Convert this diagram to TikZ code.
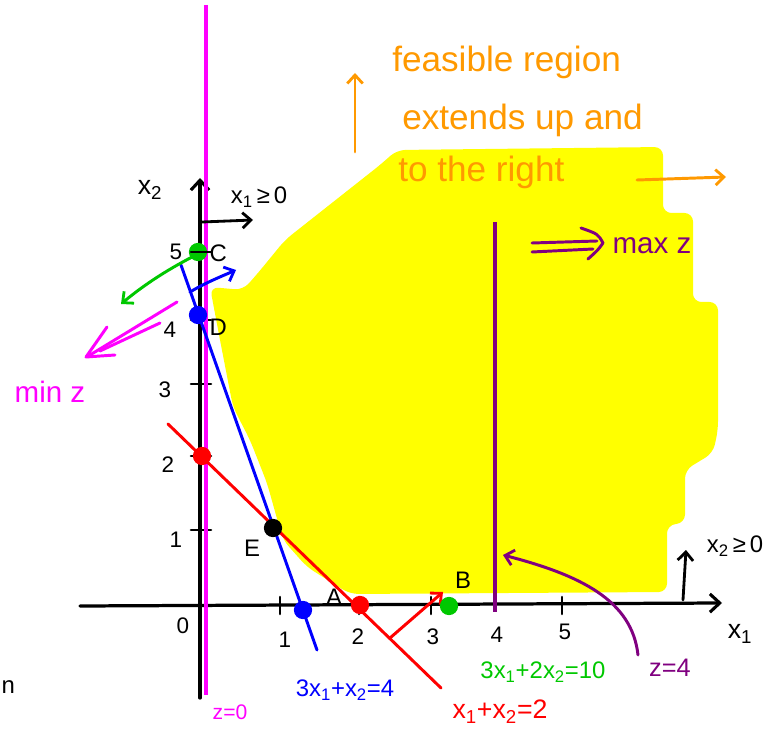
\documentclass[tikz,border=0pt]{standalone}
\usepackage{fontspec}
\setmainfont{Liberation Sans}
\usetikzlibrary{arrows.meta}
\definecolor{hlyellow}{RGB}{255,255,0}
\definecolor{myorange}{RGB}{255,153,0}
\definecolor{mymagenta}{RGB}{255,0,255}
\definecolor{mypurple}{RGB}{128,0,128}
\definecolor{mygreen}{RGB}{0,200,0}
\definecolor{myblue}{RGB}{0,0,255}
\definecolor{myred}{RGB}{255,0,0}
\newcommand{\sbs}[1]{\textsubscript{#1}}
\begin{document}
\begin{tikzpicture}[x=0.025cm,y=-0.025cm,
  pen/.style={line width=2.1pt, line cap=round, line join=round},
  axispen/.style={line width=2.3pt, line cap=round, line join=round, black},
  barb/.style={-{Straight Barb[length=6pt,width=11pt,line width=2pt]}},
  dotn/.style={circle, fill=#1, inner sep=0pt, minimum size=13pt},
  ptlbl/.style={font=\fontsize{17}{20}\selectfont, inner sep=1pt},
  numlbl/.style={font=\fontsize{16}{19}\selectfont, inner sep=1pt},
  eqlbl/.style={font=\fontsize{17}{20}\selectfont, inner sep=1pt},
  biglbl/.style={font=\fontsize{25}{34}\selectfont, text=myorange, align=left, inner sep=0pt},
  zlbl/.style={font=\fontsize{21}{24}\selectfont, inner sep=1pt}
]
\useasboundingbox (0,0) rectangle (784,741);

% feasible region
\fill[hlyellow, rounded corners=6pt]
  (397,150) -- (663,147) -- (663,213) -- (693,213) -- (693,302) -- (718,302)
  -- (718,430) -- (713,453) -- (685,470) -- (685,523) -- (667,525) -- (667,592)
  -- (350,594) -- (307,567) -- (283,540) -- (267,483) -- (250,440) -- (233,407)
  -- (220,340) -- (210,287) -- (243,290) -- (258,273) -- (285,240) -- (380,165) -- cycle;

% coordinates
\coordinate (yb) at (200,698);
\coordinate (yt) at (200,178);
\coordinate (xl) at (80,606);
\coordinate (xr) at (722,603);
\coordinate (mzt) at (206,5);
\coordinate (mzb) at (206,695);
\coordinate (bt) at (181,265);
\coordinate (bb) at (317,650);
\coordinate (rt) at (168,424);
\coordinate (rb) at (441,688);
\coordinate (pt) at (495,222);
\coordinate (pb) at (495,612);

% axes
\draw[axispen, -{Straight Barb[length=7pt,width=13pt,line width=2.2pt]}] (yb) -- (yt);
\draw[axispen, -{Straight Barb[length=7pt,width=13pt,line width=2.2pt]}] (xl) -- (xr);

% ticks
\foreach \tx/\nm in {280/t1,359/t2,431/t3,562/t5} {
  \coordinate (\nm a) at (\tx,597); \coordinate (\nm b) at (\tx,614);
  \draw[axispen, line width=1.8pt] (\nm a) -- (\nm b);
}
\foreach \ty/\nm in {252/s5,320/s4,384/s3,456/s2,530/s1} {
  \coordinate (\nm a) at (191,\ty); \coordinate (\nm b) at (211,\ty);
  \draw[axispen, line width=1.8pt] (\nm a) -- (\nm b);
}

% tick labels
\node[numlbl] (n0) at (183,626) {0};
\node[numlbl] (n1) at (285,640) {1};
\node[numlbl] (n2) at (358,637) {2};
\node[numlbl] (n3) at (433,637) {3};
\node[numlbl] (n4) at (497,635) {4};
\node[numlbl] (n5) at (565,632) {5};
\node[numlbl] (m5) at (176,252) {5};
\node[numlbl] (m4) at (170,330) {4};
\node[numlbl] (m3) at (165,390) {3};
\node[numlbl] (m2) at (168,465) {2};
\node[numlbl] (m1) at (176,540) {1};

% axis labels
\node[ptlbl, font=\fontsize{19}{22}\selectfont] (x2lab) at (150,190) {x\sbs{2}};
\node[ptlbl, font=\fontsize{19}{22}\selectfont] (x1lab) at (740,634) {x\sbs{1}};

% z = 0 line
\draw[mymagenta, line width=2.2pt] (mzt) -- (mzb);
\node[eqlbl, text=mymagenta, font=\fontsize{15}{18}\selectfont] (z0) at (230,712) {z=0};

% blue line
\draw[myblue, pen] (bt) -- (bb);
\coordinate (ba1) at (190,292);
\coordinate (ba2) at (236,270);
\draw[myblue, pen, barb] (ba1) .. controls (205,283) and (220,277) .. (ba2);
\node[eqlbl, text=myblue] (beq) at (345,690) {3x\sbs{1}+x\sbs{2}=4};

% red line
\draw[myred, pen] (rt) -- (rb);
\coordinate (ra1) at (390,638);
\coordinate (ra2) at (443,592);
\draw[myred, pen, barb] (ra1) -- (ra2);
\node[eqlbl, text=myred, font=\fontsize{19}{22}\selectfont] (req) at (500,712) {x\sbs{1}+x\sbs{2}=2};

% green objective
\coordinate (ga1) at (198,254);
\coordinate (ga2) at (121,304);
\draw[mygreen, pen, barb] (ga1) .. controls (170,268) and (145,284) .. (ga2);
\node[eqlbl, text=mygreen] (geq) at (543,672) {3x\sbs{1}+2x\sbs{2}=10};

% min z double arrow
\coordinate (mnu1) at (177,302);
\coordinate (mnu2) at (90,355);
\coordinate (mnl1) at (160,323);
\coordinate (mnl2) at (100,351);
\coordinate (mnh1) at (107,327);
\coordinate (mnh2) at (86,357);
\coordinate (mnh3) at (115,355);
\draw[mymagenta, pen] (mnu1) -- (mnu2);
\draw[mymagenta, pen] (mnl1) -- (mnl2);
\draw[mymagenta, pen] (mnh1) -- (mnh2) -- (mnh3);
\node[zlbl, text=mymagenta] (minz) at (50,392) {min z};

% purple line z=4
\draw[mypurple, line width=2.2pt] (pt) -- (pb);
\coordinate (mxu1) at (532,243);
\coordinate (mxu2) at (597,241);
\coordinate (mxl1) at (532,252);
\coordinate (mxl2) at (593,249);
\coordinate (mxh1) at (581,228);
\coordinate (mxh2) at (603,243);
\coordinate (mxh3) at (588,259);
\draw[mypurple, pen] (mxu1) -- (mxu2);
\draw[mypurple, pen] (mxl1) -- (mxl2);
\draw[mypurple, pen] (mxh1) .. controls (598,234) .. (mxh2) .. controls (598,250) .. (mxh3);
\node[zlbl, text=mypurple] (maxz) at (652,246) {max z};
\node[eqlbl, text=mypurple, font=\fontsize{18}{21}\selectfont] (z4) at (670,668) {z=4};
\coordinate (pc1) at (638,655);
\coordinate (pc2) at (503,555);
\draw[mypurple, pen, barb] (pc1) .. controls (632,600) and (580,575) .. (pc2);

% nonnegativity arrows
\coordinate (x1a) at (202,222);
\coordinate (x1b) at (253,220);
\draw[axispen, line width=2pt, barb] (x1a) -- (x1b);
\node[eqlbl] (x1ge) at (259,197) {x\sbs{1}\,≥\,0};
\coordinate (x2a) at (683,600);
\coordinate (x2b) at (686,550);
\draw[axispen, line width=2pt, barb] (x2a) -- (x2b);
\node[eqlbl] (x2ge) at (735,546) {x\sbs{2}\,≥\,0};

% orange annotation
\coordinate (oa1) at (355,152);
\coordinate (oa2) at (355,73);
\draw[myorange, pen, barb] (oa1) -- (oa2);
\node[biglbl, anchor=west] (t1) at (392,62) {feasible region};
\node[biglbl, anchor=west] (t2) at (402,120) {extends up and};
\node[biglbl, anchor=west] (t3) at (398,172) {to the right};
\coordinate (ob1) at (637,180);
\coordinate (ob2) at (726,177);
\draw[myorange, pen, barb] (ob1) -- (ob2);

% points
\node[dotn=mygreen] (C) at (198,252) {};
\draw[axispen, line width=1.8pt] (s5a) -- (s5b);
\node[ptlbl, anchor=west] (Cl) at (208,253) {C};
\node[dotn=myblue] (D) at (198,315) {};
\node[ptlbl, anchor=west] (Dl) at (208,327) {D};
\node[dotn=myred] (R2) at (202,456) {};
\node[dotn=black] (E) at (273,528) {};
\node[ptlbl] (El) at (252,548) {E};
\node[dotn=myblue] (Bx) at (303,610) {};
\node[ptlbl] (Al) at (334,597) {A};
\node[dotn=myred] (A) at (360,605) {};
\node[dotn=mygreen] (B) at (449,606) {};
\node[ptlbl] (Bl) at (463,580) {B};

% stray letter
\node[ptlbl, anchor=west] (nn) at (0,687) {n};
\end{tikzpicture}
\end{document}
